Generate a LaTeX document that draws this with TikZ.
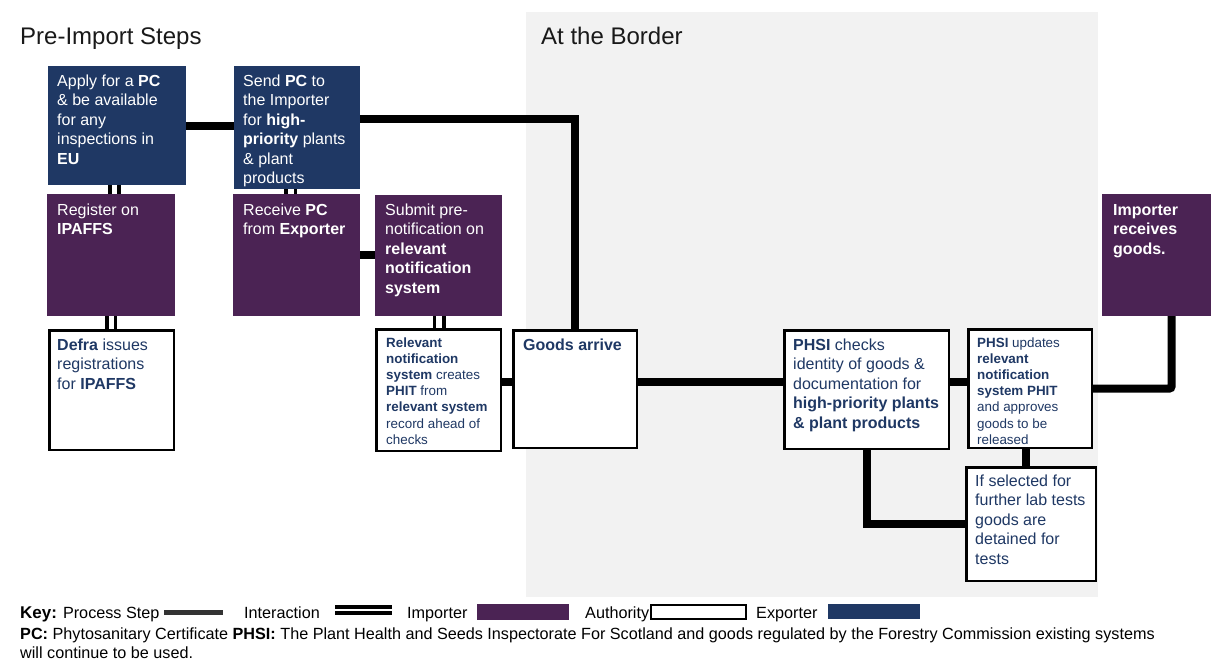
\documentclass[tikz,border=0pt]{standalone}
\usepackage{fontspec}
\setmainfont{Liberation Sans}
\definecolor{expblue}{HTML}{1F3864}
\definecolor{imppurple}{HTML}{4B2354}
\definecolor{bggrey}{HTML}{F2F2F2}
\definecolor{authtext}{HTML}{1F3864}
\newcommand{\bx}[2]{\parbox[t]{#1pt}{\raggedright #2}}
\tikzset{
  expbox/.style={fill=expblue, draw=none, inner sep=0pt, outer sep=0pt, anchor=north west},
  impbox/.style={fill=imppurple, draw=none, inner sep=0pt, outer sep=0pt, anchor=north west},
  authbox/.style={fill=white, draw=black, line width=2.5pt, inner sep=0pt, outer sep=0pt, anchor=north west},
  wtx/.style={text=white, font=\fontsize{16}{19.5}\selectfont, inner sep=0pt, anchor=base west},
  atx/.style={text=authtext, font=\fontsize{16}{19.5}\selectfont, inner sep=0pt, anchor=base west},
  stx/.style={text=authtext, font=\fontsize{13.4}{16.2}\selectfont, inner sep=0pt, anchor=base west},
  ttl/.style={text=black!90, font=\fontsize{24}{28}\selectfont, inner sep=0pt, anchor=base west},
  ktx/.style={text=black, font=\fontsize{16.2}{19}\selectfont, inner sep=0pt, anchor=base west},
  proc/.style={draw=black, line width=8pt},
  inter/.style={draw=black, line width=3.5pt},
  swatch/.style={inner sep=0pt, outer sep=0pt, anchor=north west},
}
\begin{document}
\begin{tikzpicture}[x=1pt,y=-1pt]
\useasboundingbox (0,0) rectangle (1211,659);
\fill[bggrey] (526,12) rectangle (1098,597);

% titles
\node[ttl] (t1) at (20,44.6) {Pre-Import Steps};
\node[ttl] (t2) at (541,44.6) {At the Border};

% exporter boxes
\node[expbox, minimum width=138, minimum height=119] (apply) at (48,66) {};
\node[wtx] (apply-t) at (57,86) {\bx{130}{Apply for a \textbf{PC}\\ \& be available\\ for any\\ inspections in\\ \textbf{EU}}};
\node[expbox, minimum width=126, minimum height=123] (send) at (234,66) {};
\node[wtx] (send-t) at (243,86) {\bx{125}{Send \textbf{PC} to\\ the Importer\\ for \textbf{high-}\\ \textbf{priority} plants\\ \& plant\\ products}};

% importer boxes
\node[impbox, minimum width=128, minimum height=122] (register) at (47,194) {};
\node[wtx] (register-t) at (57,215) {\bx{120}{Register on\\ \textbf{IPAFFS}}};
\node[impbox, minimum width=127, minimum height=122] (receive) at (233,194) {};
\node[wtx] (receive-t) at (243,215) {\bx{120}{Receive \textbf{PC}\\ from \textbf{Exporter}}};
\node[impbox, minimum width=127, minimum height=121] (submit) at (375,195) {};
\node[wtx] (submit-t) at (385,215) {\bx{120}{Submit pre-\\ notification on\\ \textbf{relevant}\\ \textbf{notification}\\ \textbf{system}}};
\node[impbox, minimum width=109, minimum height=122] (importer) at (1102,194) {};
\node[wtx] (importer-t) at (1113,215) {\bx{95}{\textbf{Importer}\\ \textbf{receives}\\ \textbf{goods.}}};

% authority boxes
\node[authbox, minimum width=124.5, minimum height=119.5] (defra) at (49.25,330.25) {};
\node[atx] (defra-t) at (57,350) {\bx{120}{\textbf{Defra} issues\\ registrations\\ for \textbf{IPAFFS}}};
\node[authbox, minimum width=124.5, minimum height=121.5] (relevant) at (376.25,329.25) {};
\node[stx] (relevant-t) at (386,347) {\bx{120}{\textbf{Relevant}\\ \textbf{notification}\\ \textbf{system} creates\\ \textbf{PHIT} from\\ \textbf{relevant system}\\ record ahead of\\ checks}};
\node[authbox, minimum width=123.5, minimum height=117.5] (goods) at (513.25,330.25) {};
\node[atx] (goods-t) at (523,350) {\bx{120}{\textbf{Goods arrive}}};
\node[authbox, minimum width=164.5, minimum height=118.5] (checks) at (784.25,330.25) {};
\node[atx] (checks-t) at (793,350) {\bx{160}{\textbf{PHSI} checks\\ identity of goods \&\\ documentation for\\ \textbf{high-priority plants}\\ \textbf{\& plant products}}};
\node[authbox, minimum width=123.5, minimum height=118.5] (updates) at (968.25,329.25) {};
\node[stx] (updates-t) at (977,347) {\bx{120}{\textbf{PHSI} updates\\ \textbf{relevant}\\ \textbf{notification}\\ \textbf{system PHIT}\\ and approves\\ goods to be\\ released}};
\node[authbox, minimum width=129.5, minimum height=113.5] (selected) at (966.25,467.25) {};
\node[atx] (selected-t) at (975,486) {\bx{125}{If selected for\\ further lab tests\\ goods are\\ detained for\\ tests}};

% process steps
\draw[proc] (apply.east) -- (apply.east -| send.west);
\draw[proc] ([yshift=8.5pt]send.east) -| (goods.north);
\draw[proc] (receive.east) -- (receive.east -| submit.west);
\draw[proc] ([yshift=7pt]goods.west) -- ([yshift=7pt]goods.west -| relevant.east);
\draw[proc] ([yshift=7pt]goods.east) -- ([yshift=7pt]goods.east -| checks.west);
\draw[proc] ([yshift=7pt]goods.east -| checks.east) -- ([yshift=7pt]goods.east -| updates.west);
\draw[proc, rounded corners=2pt] (updates.east) -| ([xshift=15pt]importer.south);
\draw[proc] (checks.south) |- (selected.west);
\draw[proc] ([xshift=-4pt]updates.south) -- ([xshift=-4pt]updates.south |- selected.north);

% interactions
\draw[inter] ([xshift=-7pt]apply.south) -- ([xshift=-7pt]apply.south |- register.north);
\draw[inter] ([xshift=2pt]apply.south) -- ([xshift=2pt]apply.south |- register.north);
\draw[inter] ([xshift=-11pt]send.south) -- ([xshift=-11pt]send.south |- receive.north);
\draw[inter] ([xshift=-1.5pt]send.south) -- ([xshift=-1.5pt]send.south |- receive.north);
\draw[inter] ([xshift=-4pt]register.south) -- ([xshift=-4pt]register.south |- defra.north);
\draw[inter] ([xshift=4.5pt]register.south) -- ([xshift=4.5pt]register.south |- defra.north);
\draw[inter] ([xshift=-4pt]submit.south) -- ([xshift=-4pt]submit.south |- relevant.north);
\draw[inter] ([xshift=5.5pt]submit.south) -- ([xshift=5.5pt]submit.south |- relevant.north);

% key
\node[ktx] (key1) at (20,618) {{\fontsize{17}{19}\selectfont\bfseries Key:} Process Step};
\node[swatch, fill=black!80, minimum width=59, minimum height=5] (keyproc) at (164,610) {};
\node[ktx] (key2) at (244,618) {Interaction};
\node[swatch, fill=black, minimum width=57, minimum height=3.5] (keyint1) at (335,605) {};
\node[swatch, fill=black, minimum width=57, minimum height=3.5] (keyint2) at (335,611) {};
\node[ktx] (key3) at (407,618) {Importer};
\node[swatch, fill=imppurple, minimum width=92, minimum height=16] (keyimp) at (477,604) {};
\node[ktx] (key4) at (585,618) {Authority};
\node[swatch, fill=white, draw=black, line width=2pt, minimum width=95, minimum height=14] (keyauth) at (651,605) {};
\node[ktx] (key5) at (756,618) {Exporter};
\node[swatch, fill=expblue, minimum width=92, minimum height=15] (keyexp) at (828,604) {};
\node[ktx] (note1) at (20,639) {\textbf{PC:} Phytosanitary Certificate \textbf{PHSI:} The Plant Health and Seeds Inspectorate For Scotland and goods regulated by the Forestry Commission existing systems};
\node[ktx] (note2) at (20,658) {will continue to be used.};
\end{tikzpicture}
\end{document}
